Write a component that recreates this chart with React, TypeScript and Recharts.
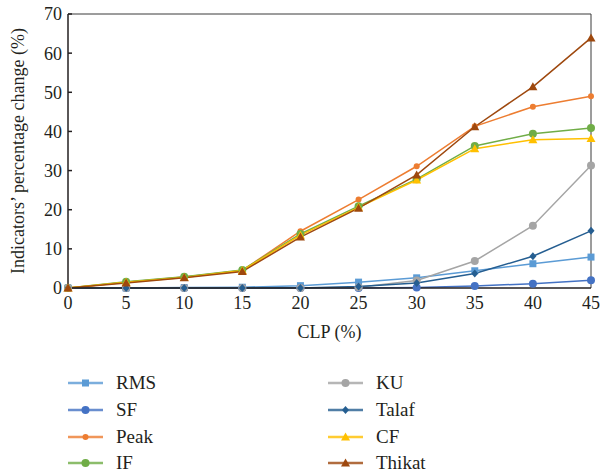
import React from 'react';
import { LineChart, Line, XAxis, YAxis, ReferenceLine } from 'recharts';

const clp = [0, 5, 10, 15, 20, 25, 30, 35, 40, 45];

const rms = [0, 0, 0.1, 0.2, 0.6, 1.5, 2.6, 4.4, 6.2, 7.9];
const sf = [0, 0, 0, 0, 0, 0, 0.1, 0.5, 1.1, 2.0];
const peak = [0, 1.5, 2.8, 4.5, 14.5, 22.6, 31.1, 41.3, 46.3, 49.0];
const ifv = [0, 1.6, 2.9, 4.6, 13.8, 20.9, 27.8, 36.3, 39.4, 40.9];
const ku = [0, 0, 0, 0, 0, 0.2, 1.9, 6.9, 15.9, 31.3];
const talaf = [0, 0, 0, 0, 0, 0.4, 1.3, 3.7, 8.1, 14.6];
const cf = [0, 1.5, 2.7, 4.5, 13.5, 20.6, 27.6, 35.6, 37.9, 38.2];
const thikat = [0, 1.3, 2.6, 4.2, 13.0, 20.4, 28.9, 41.2, 51.4, 63.9];

const yTicks = [0, 10, 20, 30, 40, 50, 60, 70];

type Shape = 'square' | 'circle' | 'dot' | 'diamond' | 'triangle';

const series: Array<{ key: string; name: string; color: string; shape: Shape; values: number[] }> = [
  { key: 'rms', name: 'RMS', color: '#5B9BD5', shape: 'square', values: rms },
  { key: 'sf', name: 'SF', color: '#4472C4', shape: 'circle', values: sf },
  { key: 'peak', name: 'Peak', color: '#ED7D31', shape: 'dot', values: peak },
  { key: 'if', name: 'IF', color: '#70AD47', shape: 'circle', values: ifv },
  { key: 'ku', name: 'KU', color: '#A5A5A5', shape: 'circle', values: ku },
  { key: 'talaf', name: 'Talaf', color: '#255E91', shape: 'diamond', values: talaf },
  { key: 'cf', name: 'CF', color: '#FFC000', shape: 'triangle', values: cf },
  { key: 'thikat', name: 'Thikat', color: '#9E480E', shape: 'triangle', values: thikat },
];

const data = clp.map((x, i) => {
  const row: Record<string, number> = { clp: x };
  series.forEach((s) => {
    row[s.key] = s.values[i];
  });
  return row;
});

const FONT = 'Liberation Serif, Times New Roman, DejaVu Serif, serif';
const INK = '#231f20';

function Marker({ shape, cx, cy, color }: { shape: Shape; cx: number; cy: number; color: string }) {
  if (shape === 'square') {
    return <rect x={cx - 3.5} y={cy - 3.5} width={7} height={7} fill={color} />;
  }
  if (shape === 'circle') {
    return <circle cx={cx} cy={cy} r={4} fill={color} />;
  }
  if (shape === 'dot') {
    return <circle cx={cx} cy={cy} r={3} fill={color} />;
  }
  if (shape === 'diamond') {
    return <path d={`M${cx},${cy - 4}L${cx + 3.5},${cy}L${cx},${cy + 4}L${cx - 3.5},${cy}Z`} fill={color} />;
  }
  return <path d={`M${cx},${cy - 4.5}L${cx + 4.5},${cy + 3.5}L${cx - 4.5},${cy + 3.5}Z`} fill={color} />;
}

function LegendItem({ name, color, shape }: { name: string; color: string; shape: Shape }) {
  return (
    <div style={{ display: 'flex', alignItems: 'center', height: 26.7 }}>
      <svg width={36} height={12} style={{ marginRight: 12 }}>
        <line x1={0} y1={6} x2={35} y2={6} stroke={color} strokeWidth={2.5} opacity={0.8} />
        <Marker shape={shape} cx={17.5} cy={6} color={color} />
      </svg>
      <span style={{ fontFamily: FONT, fontSize: 19, color: INK }}>{name}</span>
    </div>
  );
}

export default function App() {
  // legend is two columns of four
  const left = series.slice(0, 4);
  const right = series.slice(4);
  return (
    <div style={{ position: 'absolute', left: 0, top: 0, width: 601, height: 475, background: '#fff', fontFamily: FONT }}>
      <LineChart width={601} height={475} data={data} margin={{ top: 14, right: 10, left: 0, bottom: 132 }}>
        <XAxis
          dataKey="clp"
          type="number"
          domain={[0, 45]}
          ticks={clp}
          tickLine={false}
          tickSize={0}
          tickMargin={8}
          height={55}
          stroke={INK}
          strokeWidth={1.5}
          tick={{ fill: INK, fontSize: 18, fontFamily: FONT }}
          label={{ value: 'CLP (%)', position: 'insideBottom', offset: 5, fill: INK, fontSize: 18, fontFamily: FONT }}
        />
        <YAxis
          type="number"
          domain={[0, 70]}
          ticks={yTicks}
          width={68}
          tickSize={-4}
          tickMargin={10}
          stroke={INK}
          strokeWidth={1.5}
          tick={{ fill: INK, fontSize: 18, fontFamily: FONT }}
          label={{
            value: 'Indicators’ percentage change (%)',
            angle: -90,
            position: 'insideLeft',
            offset: 18,
            fill: INK,
            fontSize: 18,
            fontFamily: FONT,
            style: { textAnchor: 'middle' },
          }}
        />
        <ReferenceLine y={70} stroke="#3a3a3a" strokeWidth={1} />
        <ReferenceLine x={45} stroke="#3a3a3a" strokeWidth={1} />
        {series.map((s) => (
          <Line
            key={s.key}
            dataKey={s.key}
            name={s.name}
            stroke={s.color}
            strokeWidth={1.5}
            isAnimationActive={false}
            dot={(p: any) => <Marker key={`${s.key}-${p.index}`} shape={s.shape} cx={p.cx} cy={p.cy} color={s.color} />}
            activeDot={false}
          />
        ))}
      </LineChart>
      <div style={{ position: 'absolute', left: 68, top: 370 }}>
        {left.map((s) => (
          <LegendItem key={s.key} name={s.name} color={s.color} shape={s.shape} />
        ))}
      </div>
      <div style={{ position: 'absolute', left: 328, top: 370 }}>
        {right.map((s) => (
          <LegendItem key={s.key} name={s.name} color={s.color} shape={s.shape} />
        ))}
      </div>
    </div>
  );
}
